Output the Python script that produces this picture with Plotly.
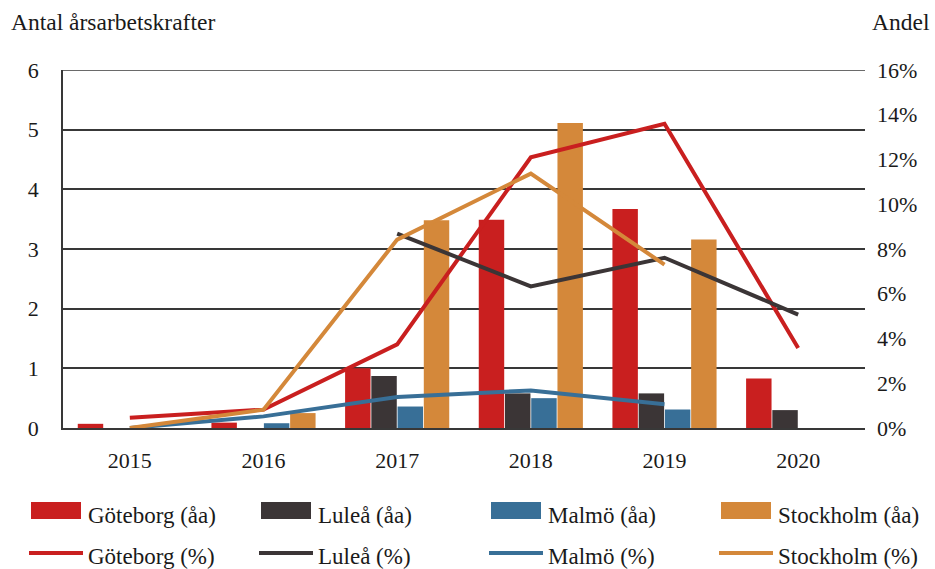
import plotly.graph_objects as go

years = ["2015", "2016", "2017", "2018", "2019", "2020"]

# Antal årsarbetskrafter (left axis)
gbg_aa = [0.07, 0.09, 1.00, 3.49, 3.67, 0.83]
lul_aa = [0.00, 0.00, 0.87, 0.58, 0.58, 0.30]
mal_aa = [0.00, 0.08, 0.36, 0.50, 0.31, 0.00]
sto_aa = [0.00, 0.25, 3.48, 5.11, 3.16, 0.00]

# Andel, % (right axis)
gbg_pct = [0.46, 0.82, 3.74, 12.1, 13.6, 3.58]
lul_pct = [None, None, 8.69, 6.33, 7.61, 5.07]
mal_pct = [0.0, 0.52, 1.39, 1.68, 1.06, None]
sto_pct = [0.0, 0.82, 8.42, 11.37, 7.30, None]

names = ["Göteborg", "Luleå", "Malmö", "Stockholm"]
colors = ["#C91F1F", "#3B3536", "#386F97", "#D4883A"]

FONT = "Liberation Serif"
TXT = "#1a1a1a"
GRID = "#383838"
W, H = 935, 569
L, R, T, B = 63, 865, 70, 428

fig = go.Figure()
for n, c, v in zip(names, colors, [gbg_aa, lul_aa, mal_aa, sto_aa]):
    fig.add_trace(go.Bar(x=years, y=v, name=f"{n} (åa)", marker=dict(color=c, line=dict(width=0)),
                         showlegend=False, yaxis="y"))
for n, c, v in zip(names, colors, [gbg_pct, lul_pct, mal_pct, sto_pct]):
    fig.add_trace(go.Scatter(x=years, y=v, name=f"{n} (%)", mode="lines",
                             line=dict(color=c, width=4), showlegend=False, yaxis="y2",
                             connectgaps=False))

def px(x):
    return (x - L) / (R - L)

def py(y):
    return (B - y) / (B - T)

shapes = []
annotations = []
# top gridline (at the top of the left axis range)
shapes.append(dict(type="line", xref="paper", yref="y", x0=0, x1=1, y0=6, y1=6,
                   line=dict(color=GRID, width=1.5), layer="below"))
# manual legend
col_x = [31, 261, 491, 721]
for i, (n, c) in enumerate(zip(names, colors)):
    x0 = col_x[i]
    shapes.append(dict(type="rect", xref="paper", yref="paper",
                       x0=px(x0), x1=px(x0 + 50), y0=py(519), y1=py(502),
                       fillcolor=c, line=dict(width=0)))
    annotations.append(dict(xref="paper", yref="paper", x=px(x0 + 55), y=py(515),
                            text=f"{n} (åa)", showarrow=False, xanchor="left", yanchor="middle",
                            font=dict(family=FONT, size=23, color=TXT)))
    shapes.append(dict(type="line", xref="paper", yref="paper",
                       x0=px(x0 - 2), x1=px(x0 + 52), y0=py(553), y1=py(553),
                       line=dict(color=c, width=4)))
    annotations.append(dict(xref="paper", yref="paper", x=px(x0 + 55), y=py(556),
                            text=f"{n} (%)", showarrow=False, xanchor="left", yanchor="middle",
                            font=dict(family=FONT, size=23, color=TXT)))

annotations.append(dict(xref="paper", yref="paper", x=px(9), y=py(22), text="Antal årsarbetskrafter",
                        showarrow=False, xanchor="left", yanchor="middle",
                        font=dict(family=FONT, size=23.5, color=TXT)))
annotations.append(dict(xref="paper", yref="paper", x=px(932), y=py(22), text="Andel",
                        showarrow=False, xanchor="right", yanchor="middle",
                        font=dict(family=FONT, size=23.5, color=TXT)))

fig.update_layout(
    width=W, height=H,
    margin=dict(l=L, r=W - R, t=T, b=H - B, pad=0),
    paper_bgcolor="white", plot_bgcolor="white",
    barmode="group", bargap=0.215, bargroupgap=0.03,
    font=dict(family=FONT, size=22, color=TXT),
    showlegend=False,
    xaxis=dict(type="category", showgrid=False, showline=True, linecolor=GRID, linewidth=1.6,
               ticks="", tickfont=dict(size=22), ticklabelstandoff=12, zeroline=False),
    yaxis=dict(range=[0, 6], dtick=1, showgrid=True, gridcolor=GRID, gridwidth=1.5,
               showline=True, linecolor=GRID, linewidth=1.6, ticks="",
               tickfont=dict(size=22), ticklabelstandoff=18, zeroline=False),
    yaxis2=dict(range=[0, 16], dtick=2, ticksuffix="%", overlaying="y", side="right",
                showgrid=False, showline=False, ticks="", tickfont=dict(size=22),
                ticklabelstandoff=11, zeroline=False),
    shapes=shapes, annotations=annotations,
)

fig.write_html("out.html", config={"displayModeBar": False},
               post_script="document.body.style.margin='0px';document.body.style.overflow='hidden';")
